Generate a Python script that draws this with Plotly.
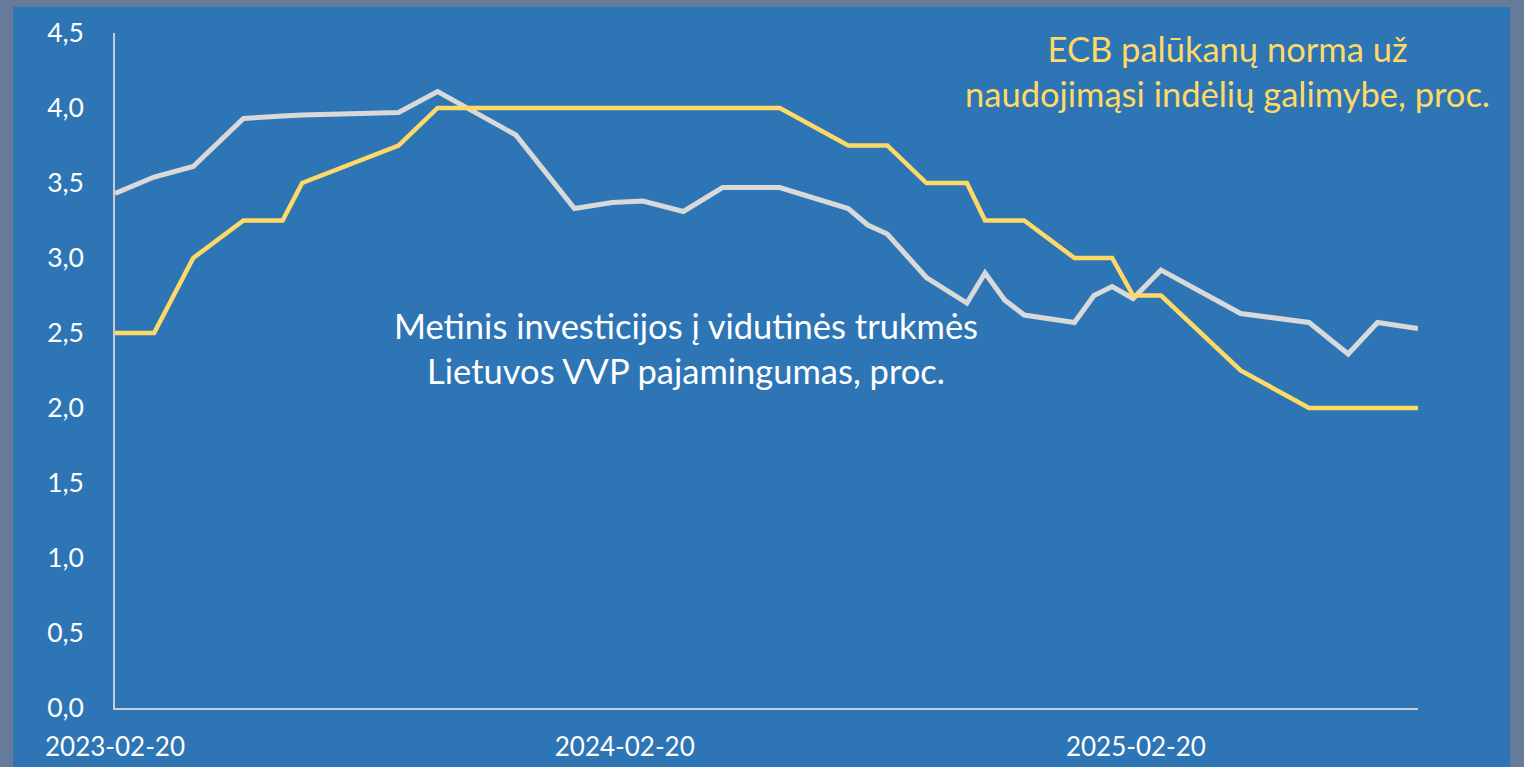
import plotly.graph_objects as go

dates = [
    "2023-02-20", "2023-03-20", "2023-04-17", "2023-05-23", "2023-06-20", "2023-07-04",
    "2023-09-11", "2023-10-09", "2023-12-04", "2024-01-15", "2024-02-11", "2024-03-04",
    "2024-04-02", "2024-04-30", "2024-06-10", "2024-07-29", "2024-08-12", "2024-08-26",
    "2024-09-23", "2024-10-22", "2024-11-04", "2024-11-18", "2024-12-02", "2025-01-07",
    "2025-01-21", "2025-02-03", "2025-02-18", "2025-03-10", "2025-05-06", "2025-06-24",
    "2025-07-22", "2025-08-12", "2025-09-10",
]

vvp_yield = [
    3.43, 3.54, 3.61, 3.93, 3.947, 3.953,
    3.97, 4.11, 3.82, 3.33, 3.37, 3.38,
    3.31, 3.47, 3.47, 3.33, 3.22, 3.16,
    2.87, 2.70, 2.90, 2.72, 2.62, 2.57,
    2.75, 2.81, 2.73, 2.92, 2.63, 2.57,
    2.36, 2.57, 2.53,
]

ecb_rate = [
    2.50, 2.50, 3.00, 3.25, 3.25, 3.50,
    3.75, 4.00, 4.00, 4.00, 4.00, 4.00,
    4.00, 4.00, 4.00, 3.75, 3.75, 3.75,
    3.50, 3.50, 3.25, 3.25, 3.25, 3.00,
    3.00, 3.00, 2.75, 2.75, 2.25, 2.00,
    2.00, 2.00, 2.00,
]

x_tick_vals = ["2023-02-20", "2024-02-20", "2025-02-20"]
x_tick_text = ["2023-02-20", "2024-02-20", "2025-02-20"]
y_tick_vals = [0, 0.5, 1.0, 1.5, 2.0, 2.5, 3.0, 3.5, 4.0, 4.5]
y_tick_text = ["0,0", "0,5", "1,0", "1,5", "2,0", "2,5", "3,0", "3,5", "4,0", "4,5"]

label_ecb = "ECB palūkanų norma už<br>naudojimąsi indėlių galimybe, proc."
label_vvp = "Metinis investicijos į vidutinės trukmės<br>Lietuvos VVP pajamingumas, proc."

BLUE = "#2E75B6"
FRAME = "#667B9A"
YELLOW = "#FFD966"
GRAY = "#D9D9D9"
FONT = "Lato"

fig = go.Figure()
fig.add_trace(go.Scatter(x=dates, y=vvp_yield, mode="lines",
                         line=dict(color=GRAY, width=5), name="VVP"))
fig.add_trace(go.Scatter(x=dates, y=ecb_rate, mode="lines",
                         line=dict(color=YELLOW, width=4.5), name="ECB"))

W, H = 1524, 767
L, R, T, B = 115, 106, 33, 59
pw, ph = W - L - R, H - T - B

def px_x(p):
    return (p - L) / pw

def px_y(p):
    return (H - B - p) / ph

fig.add_shape(type="rect", xref="paper", yref="paper",
              x0=px_x(13), x1=px_x(1510), y0=px_y(800), y1=px_y(7),
              fillcolor=BLUE, line=dict(width=0), layer="below")

fig.add_annotation(text=label_ecb, xref="paper", yref="paper",
                   x=px_x(1227), y=px_y(71), xanchor="center", yanchor="middle",
                   showarrow=False, align="center",
                   font=dict(family=FONT, size=34.5, color=YELLOW))
fig.add_annotation(text=label_vvp, xref="paper", yref="paper",
                   x=px_x(686), y=px_y(348), xanchor="center", yanchor="middle",
                   showarrow=False, align="center",
                   font=dict(family=FONT, size=34.5, color="white"))

fig.update_layout(
    width=W, height=H,
    margin=dict(l=L, r=R, t=T, b=B, autoexpand=False),
    paper_bgcolor=FRAME,
    plot_bgcolor="rgba(0,0,0,0)",
    showlegend=False,
    font=dict(family=FONT, color="white", size=26),
)
fig.update_xaxes(type="date", range=["2023-02-20", "2025-09-10"],
                 tickmode="array", tickvals=x_tick_vals, ticktext=x_tick_text,
                 showgrid=False, zeroline=False, showline=True,
                 linecolor="#C9CED6", linewidth=2, ticks="", automargin=False,
                 tickfont=dict(family=FONT, size=26, color="white"),
                 ticklabelstandoff=15)
fig.update_yaxes(range=[0, 4.5], tickmode="array", tickvals=y_tick_vals,
                 ticktext=y_tick_text, showgrid=False, zeroline=False,
                 showline=True, linecolor="#C9CED6", linewidth=1.5, ticks="",
                 automargin=False,
                 tickfont=dict(family=FONT, size=26.5, color="white"),
                 ticklabelstandoff=24)

fig.write_html(
    "out.html",
    config={"displayModeBar": False},
    post_script="document.body.style.margin='0';document.body.style.background='" + FRAME + "';",
)
